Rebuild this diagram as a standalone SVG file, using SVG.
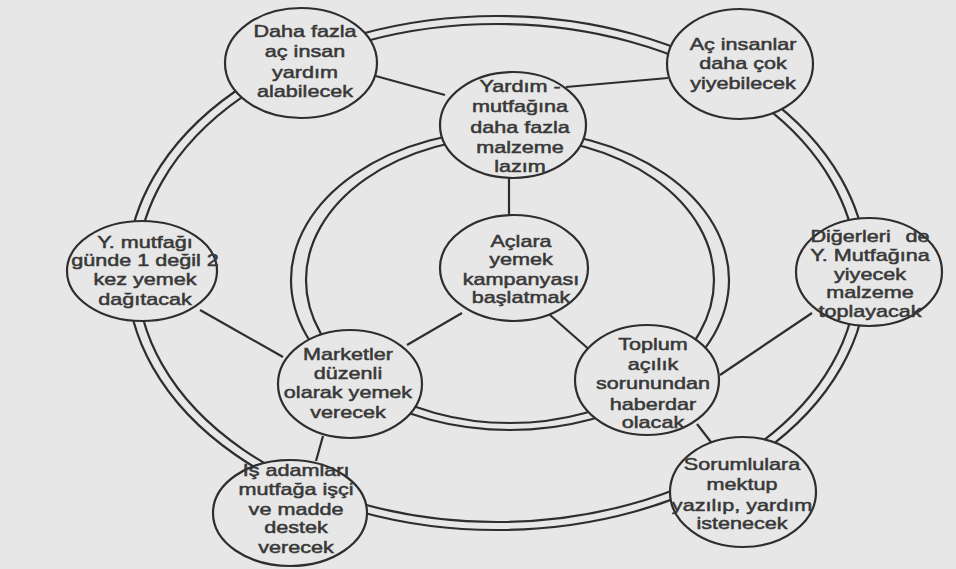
<svg xmlns="http://www.w3.org/2000/svg" width="956" height="569" viewBox="0 0 956 569">
  <defs>
    <style>
      .bg { fill: #e7e7e7; }
      .ring { fill: none; stroke: #2e2e2e; stroke-width: 2.2; }
      .link { stroke: #2e2e2e; stroke-width: 2.2; fill: none; }
      .node ellipse { fill: #e7e7e7; stroke: #2e2e2e; stroke-width: 2.2; }
      .node text { font-family: "Liberation Sans", Arial, sans-serif; font-size: 17px; fill: #383838; stroke: #383838; stroke-width: 0.5; text-anchor: middle; }
    </style>
  </defs>

  <rect class="bg" x="0" y="0" width="956" height="569"/>

  <!-- double rings -->
  <g id="rings">
    <ellipse class="ring" cx="497" cy="273" rx="370" ry="257"/>
    <ellipse class="ring" cx="497" cy="273" rx="360" ry="249"/>
    <ellipse class="ring" cx="510" cy="280" rx="219" ry="150"/>
    <ellipse class="ring" cx="510" cy="280" rx="204" ry="143"/>
  </g>

  <!-- connectors -->
  <g id="connectors">
    <line class="link" x1="372" y1="75" x2="445" y2="95"/>
    <line class="link" x1="566" y1="87" x2="668" y2="78"/>
    <line class="link" x1="509" y1="176" x2="509" y2="216"/>
    <line class="link" x1="462" y1="313" x2="407" y2="345"/>
    <line class="link" x1="550" y1="315" x2="592" y2="352"/>
    <line class="link" x1="200" y1="310" x2="283" y2="357"/>
    <line class="link" x1="720" y1="375" x2="812" y2="313"/>
    <line class="link" x1="323" y1="436" x2="316" y2="461"/>
    <line class="link" x1="697" y1="424" x2="714" y2="446"/>
  </g>

  <g id="n-daha-fazla" class="node">
    <ellipse cx="301" cy="63" rx="76" ry="55"/>
    <g transform="translate(305,0) scale(1.27,1)">
      <text x="0" y="37">Daha fazla</text>
      <text x="0" y="57">aç insan</text>
      <text x="0" y="78">yardım</text>
      <text x="0" y="97">alabilecek</text>
    </g>
  </g>

  <g id="n-yardim" class="node">
    <ellipse cx="513" cy="125" rx="73" ry="53"/>
    <g transform="translate(520,0) scale(1.27,1)">
      <text x="0" y="92">Yardım -</text>
      <text x="0" y="112">mutfağına</text>
      <text x="0" y="133">daha fazla</text>
      <text x="0" y="153">malzeme</text>
      <text x="0" y="172">lazım</text>
    </g>
  </g>

  <g id="n-ac-insanlar" class="node">
    <ellipse cx="740" cy="64" rx="73" ry="55"/>
    <g transform="translate(743,0) scale(1.27,1)">
      <text x="0" y="50">Aç insanlar</text>
      <text x="0" y="69">daha çok</text>
      <text x="0" y="89">yiyebilecek</text>
    </g>
  </g>

  <g id="n-y-mutfagi" class="node">
    <ellipse cx="142" cy="271" rx="75" ry="50"/>
    <g transform="translate(145,0) scale(1.27,1)">
      <text x="0" y="248">Y. mutfağı</text>
      <text x="0" y="266">günde 1 değil 2</text>
      <text x="0" y="285">kez yemek</text>
      <text x="0" y="305">dağıtacak</text>
    </g>
  </g>

  <g id="n-digerleri" class="node">
    <ellipse cx="869" cy="272" rx="73" ry="54"/>
    <g transform="translate(870,0) scale(1.27,1)">
      <text x="0" y="242" word-spacing="7">Diğerleri de</text>
      <text x="0" y="261">Y. Mutfağına</text>
      <text x="0" y="280">yiyecek</text>
      <text x="0" y="298">malzeme</text>
      <text x="0" y="317">toplayacak</text>
    </g>
  </g>

  <g id="n-kampanya" class="node">
    <ellipse cx="514" cy="268" rx="74" ry="53"/>
    <g transform="translate(521,0) scale(1.27,1)">
      <text x="0" y="247">Açlara</text>
      <text x="0" y="265">yemek</text>
      <text x="0" y="285">kampanyası</text>
      <text x="0" y="303">başlatmak</text>
    </g>
  </g>

  <g id="n-marketler" class="node">
    <ellipse cx="350" cy="384" rx="72" ry="54"/>
    <g transform="translate(348,0) scale(1.27,1)">
      <text x="0" y="360">Marketler</text>
      <text x="0" y="379">düzenli</text>
      <text x="0" y="398">olarak yemek</text>
      <text x="0" y="418">verecek</text>
    </g>
  </g>

  <g id="n-toplum" class="node">
    <ellipse cx="647" cy="380" rx="72" ry="55"/>
    <g transform="translate(653,0) scale(1.27,1)">
      <text x="0" y="350">Toplum</text>
      <text x="0" y="370">açılık</text>
      <text x="0" y="389">sorunundan</text>
      <text x="0" y="410">haberdar</text>
      <text x="0" y="428">olacak</text>
    </g>
  </g>

  <g id="n-is-adamlari" class="node">
    <ellipse cx="290" cy="513" rx="77" ry="53"/>
    <g transform="translate(296,0) scale(1.27,1)">
      <text x="0" y="476">Iş adamları</text>
      <text x="0" y="495">mutfağa işçi</text>
      <text x="0" y="515">ve madde</text>
      <text x="0" y="533">destek</text>
      <text x="0" y="553">verecek</text>
    </g>
  </g>

  <g id="n-sorumlulara" class="node">
    <ellipse cx="743" cy="492" rx="73" ry="55"/>
    <g transform="translate(742,0) scale(1.27,1)">
      <text x="0" y="470">Sorumlulara</text>
      <text x="0" y="490">mektup</text>
      <text x="0" y="511">yazılıp, yardım</text>
      <text x="0" y="529">istenecek</text>
    </g>
  </g>
</svg>
